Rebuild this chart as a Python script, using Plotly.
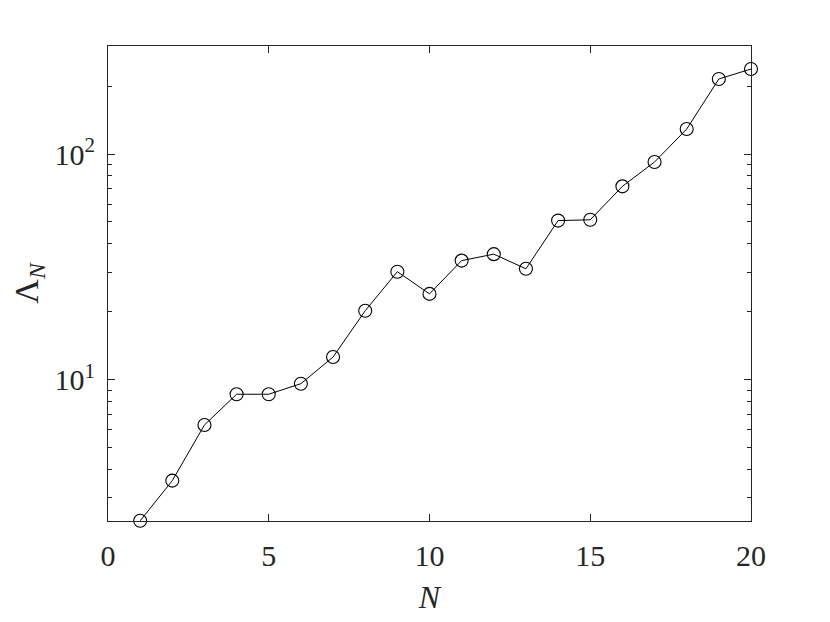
import plotly.graph_objects as go

N = list(range(1, 21))
Lambda_N = [2.37, 3.57, 6.30, 8.62, 8.62, 9.6, 12.6, 20.2, 30.1, 24.0,
            33.7, 36.0, 31.0, 50.7, 51.1, 71.9, 92.2, 129, 215, 238]

x_ticks = [0, 5, 10, 15, 20]
y_ticks = [10, 100]
y_ticktext = ["10<sup>1</sup>", "10<sup>2</sup>"]

axcol = "#262626"
font_family = "Liberation Serif"

fig = go.Figure()
fig.add_trace(go.Scatter(
    x=N, y=Lambda_N, mode="lines+markers",
    line=dict(color="black", width=1),
    marker=dict(symbol="circle-open", size=13, color="black", line=dict(width=1.1)),
    showlegend=False, cliponaxis=False,
))

fig.update_layout(
    width=822, height=614,
    margin=dict(l=100, r=79, t=38, b=101),
    paper_bgcolor="white", plot_bgcolor="white",
    font=dict(family=font_family, color=axcol, size=30),
    xaxis=dict(
        range=[0, 20], tickvals=x_ticks, ticktext=[str(v) for v in x_ticks],
        ticks="inside", ticklen=7, tickwidth=1, tickcolor=axcol,
        showline=True, linecolor=axcol, linewidth=1, mirror="ticks",
        showgrid=False, zeroline=False, automargin=False,
        title=dict(text="<i>N</i>", font=dict(size=32), standoff=14),
        tickfont=dict(size=30), ticklabelstandoff=8,
    ),
    yaxis=dict(
        type="log", range=[0.3738, 2.4786],
        tickvals=y_ticks, ticktext=y_ticktext,
        ticks="inside", ticklen=7, tickwidth=1, tickcolor=axcol,
        showline=True, linecolor=axcol, linewidth=1, mirror="ticks",
        showgrid=False, zeroline=False, automargin=False,
        minor=dict(ticks="inside", ticklen=4, tickwidth=1, tickcolor=axcol,
                   showgrid=False, tickvals=[3, 4, 5, 6, 7, 8, 9, 20, 30, 40, 50, 60, 70, 80, 90, 200, 300]),
        title=dict(text="Λ<sub><i>N</i></sub>", font=dict(size=34), standoff=8),
        tickfont=dict(size=30), ticklabelstandoff=6,
    ),
)

fig.write_html("out.html")
